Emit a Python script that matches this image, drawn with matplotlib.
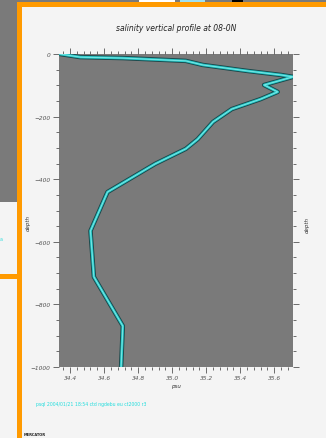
import matplotlib
matplotlib.use("Agg")
import matplotlib.pyplot as plt
from matplotlib.patches import Rectangle
from matplotlib.ticker import MultipleLocator, AutoMinorLocator

# perfil de salinidad (psu vs profundidad en m)
salinidad = [34.34, 34.46, 34.71, 35.08, 35.18, 35.44, 35.64, 35.71, 35.54,
             35.62, 35.52, 35.35, 35.24, 35.15, 35.08, 34.90, 34.62, 34.52,
             34.54, 34.71, 34.70]
profundidad = [0, -10, -13, -22, -35, -54, -67, -73, -99, -121, -144, -176,
               -217, -272, -303, -351, -441, -565, -712, -869, -1000]

x_ticks = [34.4, 34.6, 34.8, 35.0, 35.2, 35.4, 35.6]
y_ticks = [0, -200, -400, -600, -800, -1000]

titulo = "salinity vertical profile at 08-0N"
pie = "psql 2004/01/21 18:54 ctd ngdebu eu ct2000 r3"

NARANJA = "#ff9a00"
FONDO = "#f4f4f4"
GRIS = "#7a7a7a"

fig = plt.figure(figsize=(3.26, 4.39), dpi=100)
fig.patch.set_facecolor(FONDO)


def rect(x0, y0, x1, y1, color, z=0):
    # rectangulo en pixeles de la captura (origen arriba a la izquierda)
    W, H = 326, 439
    fig.patches.append(Rectangle((x0 / W, 1 - y1 / H), (x1 - x0) / W, (y1 - y0) / H,
                                 transform=fig.transFigure, color=color,
                                 zorder=z, lw=0))


# ventanas de fondo (captura de pantalla)
rect(0, 0, 326, 3, GRIS)
rect(139, 0, 175, 3, "#ffffff")
rect(180, 0, 205, 3, "#9fe0f0")
rect(232, 0, 243, 3, "#000000")
rect(0, 0, 17, 203, GRIS)
rect(0, 203, 17, 439, FONDO)
rect(0, 275, 17, 280, NARANJA)
rect(17, 3, 326, 8, NARANJA)
rect(17, 3, 22, 439, NARANJA)
fig.text(0.0, 1 - 240 / 439, "a", color="#33dddd", fontsize=3.5, va="center")

ax = fig.add_axes([59 / 326, 1 - 368 / 439, 234 / 326, 313 / 439])
ax.set_facecolor(GRIS)

ax.plot(salinidad, profundidad, color="#17474a", lw=3.2, zorder=3)
ax.plot(salinidad, profundidad, color="#2bc9c9", lw=1.9, zorder=4)
ax.plot(salinidad, profundidad, color="#8ff0ee", lw=0.5, zorder=5)

ax.set_xlim(34.335, 35.71)
ax.set_ylim(-1000, 0)
ax.set_xticks(x_ticks)
ax.set_xticklabels([f"{v:.1f}" for v in x_ticks])
ax.set_yticks(y_ticks)
ax.xaxis.set_minor_locator(AutoMinorLocator(5))
ax.yaxis.set_minor_locator(MultipleLocator(50))

for s in ax.spines.values():
    s.set_visible(False)

ax.tick_params(which="both", direction="out", color="#555555", width=0.6,
               top=True, right=True, labelsize=4.2, labelcolor="#555555", pad=2)
ax.tick_params(which="major", length=4)
ax.tick_params(which="minor", length=2)
for lab in ax.get_xticklabels() + ax.get_yticklabels():
    lab.set_fontstyle("italic")

ax.set_title(titulo, fontsize=5.5, style="italic", color="#222222", pad=17)
ax.set_xlabel("psu", fontsize=4, style="italic", color="#333333", labelpad=2)
fig.text(28 / 326, 1 - 223 / 439, "depth", rotation=90, fontsize=4,
         style="italic", color="#333333", ha="center", va="center")
fig.text(307 / 326, 1 - 225 / 439, "depth", rotation=90, fontsize=4,
         style="italic", color="#333333", ha="center", va="center")

fig.text(36 / 326, 1 - 405 / 439, pie, color="#22dddd", fontsize=3.3,
         va="center")
fig.text(24 / 326, 1 - 435 / 439, "MERCATOR", color="#222222", fontsize=2.6,
         weight="bold", va="center")

fig.savefig("out.png", dpi=100, facecolor=fig.get_facecolor())
